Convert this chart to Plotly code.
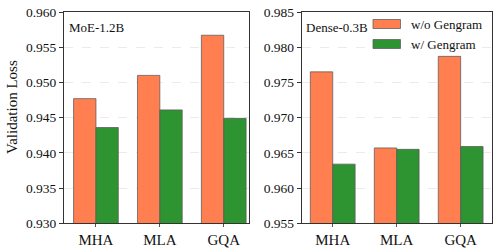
import plotly.graph_objects as go
from plotly.subplots import make_subplots

categories = ["MHA", "MLA", "GQA"]
moe_without = [0.9477, 0.9510, 0.9567]
moe_with = [0.9436, 0.9461, 0.9449]
dense_without = [0.9765, 0.9657, 0.9787]
dense_with = [0.9634, 0.9655, 0.9659]
moe_ticks = [0.930, 0.935, 0.940, 0.945, 0.950, 0.955, 0.960]
dense_ticks = [0.955, 0.960, 0.965, 0.970, 0.975, 0.980, 0.985]
series_names = ["w/o Gengram", "w/ Gengram"]
colors = ["#FF7F50", "#2E9431"]

W, H = 499, 251
FONT = "'Liberation Serif', 'Times New Roman', Times, serif"
EDGE = "rgba(90,90,90,0.75)"

fig = make_subplots(rows=1, cols=2)

for col, (a, b) in enumerate([(moe_without, moe_with), (dense_without, dense_with)], start=1):
    for i, vals in enumerate([a, b]):
        fig.add_trace(go.Bar(
            x=list(range(len(categories))), y=vals, name=series_names[i],
            marker=dict(color=colors[i], line=dict(color=EDGE, width=1)),
            showlegend=False, hoverinfo="skip",
        ), row=1, col=col)

def px_x(p):
    return p / W

def px_y(p):
    return 1 - p / H

fig.update_layout(
    width=W, height=H,
    margin=dict(l=0, r=0, t=0, b=0),
    plot_bgcolor="white", paper_bgcolor="white",
    barmode="group", bargap=0.3, bargroupgap=0,
    font=dict(family=FONT, size=14, color="#111"),
    xaxis=dict(domain=[px_x(64), px_x(249.3)], range=[-0.5, 2.4]),
    xaxis2=dict(domain=[px_x(301.7), px_x(491.7)], range=[-0.485, 2.485]),
    yaxis=dict(domain=[px_y(223.3), px_y(12)], range=[0.930, 0.960], tickvals=moe_ticks,
               ticktext=[f"{t:.3f}" for t in moe_ticks]),
    yaxis2=dict(domain=[px_y(223.3), px_y(12)], range=[0.955, 0.985], tickvals=dense_ticks,
                ticktext=[f"{t:.3f}" for t in dense_ticks]),
)

for ax in ["xaxis", "xaxis2"]:
    fig.layout[ax].update(tickvals=list(range(len(categories))), ticktext=categories,
                          showline=True, mirror=True, linecolor="#333", linewidth=1,
                          showgrid=False, zeroline=False, ticks="outside", ticklen=3,
                          tickcolor="#555", automargin=False,
                          tickfont=dict(family=FONT, size=15, color="#111"))
for ax in ["yaxis", "yaxis2"]:
    fig.layout[ax].update(showline=True, mirror=True, linecolor="#333", linewidth=1,
                          showgrid=True, gridcolor="#ebebeb", griddash="dash", gridwidth=1,
                          zeroline=False, ticks="outside", ticklen=4, tickcolor="#333",
                          automargin=False,
                          tickfont=dict(family=FONT, size=13.5, color="#111"))

fig.add_annotation(text="Validation Loss", textangle=-90, x=px_x(12), y=px_y(107),
                   xref="paper", yref="paper", xanchor="center", yanchor="middle",
                   showarrow=False, font=dict(family=FONT, size=15, color="#111"))
fig.add_annotation(text="MoE-1.2B", x=px_x(67), y=px_y(27), xref="paper", yref="paper",
                   xanchor="left", yanchor="middle", showarrow=False,
                   font=dict(family=FONT, size=13, color="#111"))
fig.add_annotation(text="Dense-0.3B", x=px_x(304), y=px_y(27), xref="paper", yref="paper",
                   xanchor="left", yanchor="middle", showarrow=False,
                   font=dict(family=FONT, size=13, color="#111"))

# legend key (drawn manually to match wide rectangular patches)
for i, name in enumerate(series_names):
    yc = 24 + 20 * i
    fig.add_shape(type="rect", xref="paper", yref="paper",
                  x0=px_x(373), x1=px_x(400.5), y0=px_y(yc - 4.5), y1=px_y(yc + 4.5),
                  fillcolor=colors[i], line=dict(color=EDGE, width=1))
    fig.add_annotation(text=name, x=px_x(409), y=px_y(yc), xref="paper", yref="paper",
                       xanchor="left", yanchor="middle", showarrow=False,
                       font=dict(family=FONT, size=13, color="#111"))

fig.write_html("out.html", config={"displayModeBar": False},
               post_script="document.body.style.margin='0';document.body.style.overflow='hidden';")
